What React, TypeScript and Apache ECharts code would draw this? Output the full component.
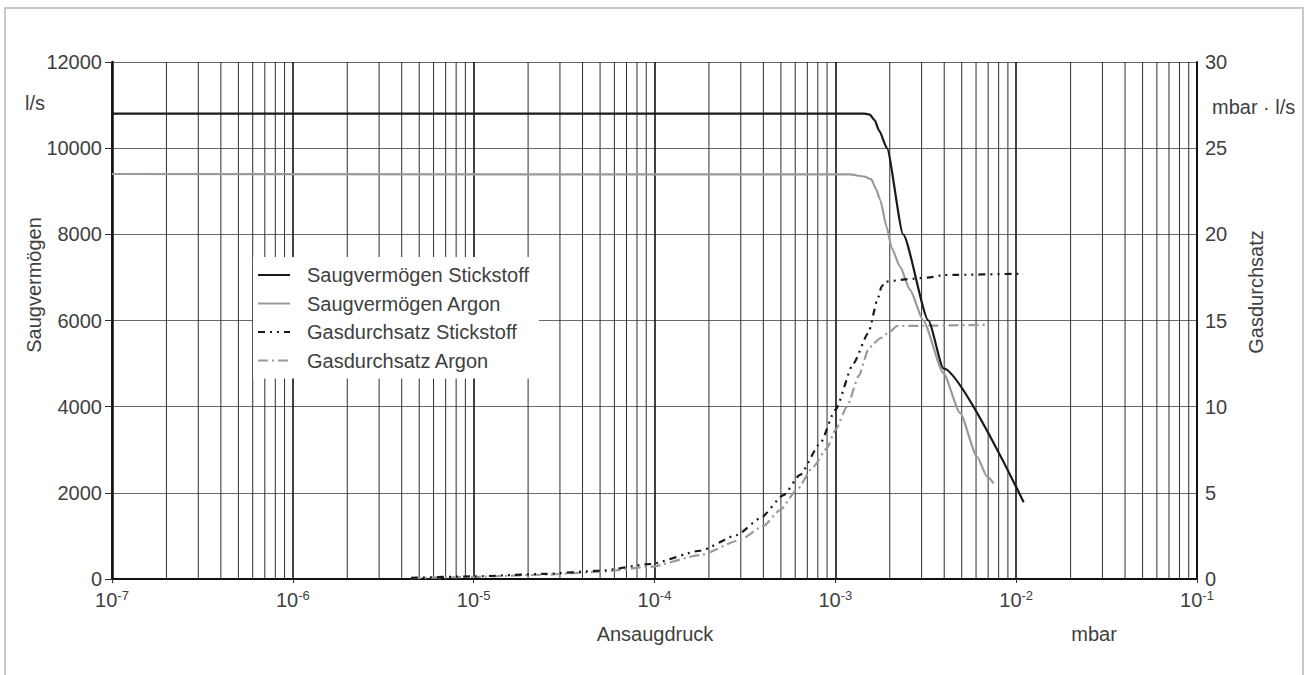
import React, { useEffect, useRef } from "react";
import * as echarts from "echarts";

const FONT = '"Liberation Sans", Arial, sans-serif';
const TXT = "#404040";

const seriesNames = [
  "Saugvermögen Stickstoff",
  "Saugvermögen Argon",
  "Gasdurchsatz Stickstoff",
  "Gasdurchsatz Argon",
];

// [pressure mbar, l/s]
const saugStickstoff: [number, number][] = [
  [1e-7, 10800], [1.45e-3, 10800], [1.55e-3, 10780], [1.65e-3, 10650],
  [1.75e-3, 10400], [1.93e-3, 10000], [2.37e-3, 8000], [3.27e-3, 6000],
  [3.96e-3, 4890], [1.1e-2, 1780],
];
const saugArgon: [number, number][] = [
  [1e-7, 9400], [1.2e-3, 9390], [1.45e-3, 9340], [1.58e-3, 9280],
  [1.68e-3, 9050], [1.77e-3, 8800], [1.92e-3, 8180], [2.05e-3, 7680],
  [2.28e-3, 7250], [2.59e-3, 6710], [3.06e-3, 6000], [3.96e-3, 4780],
  [4.9e-3, 3850], [6.07e-3, 2840], [6.9e-3, 2380], [7.5e-3, 2220],
];
// [pressure mbar, mbar·l/s]
const gasStickstoff: [number, number][] = [
  [4.5e-6, 0.07], [1e-5, 0.15], [2.5e-5, 0.3], [5e-5, 0.48], [9.5e-5, 0.87],
  [1.79e-4, 1.64], [2.85e-4, 2.55], [3.84e-4, 3.52], [5.17e-4, 4.87],
  [6.38e-4, 6.04], [8.24e-4, 7.87], [1e-3, 9.81], [1.26e-3, 12.52],
  [1.52e-3, 14.26], [1.72e-3, 16.3], [1.8e-3, 16.96], [1.89e-3, 17.25],
  [2.5e-3, 17.4], [3.34e-3, 17.5], [4e-3, 17.64], [1.1e-2, 17.72],
];
const gasArgon: [number, number][] = [
  [4.5e-6, 0.05], [1e-5, 0.12], [2.5e-5, 0.25], [5e-5, 0.42], [9.5e-5, 0.71],
  [1.79e-4, 1.39], [2.97e-4, 2.26], [4e-4, 3.08], [4.95e-4, 4.0],
  [6.12e-4, 5.17], [7.56e-4, 6.52], [9e-4, 7.6], [1e-3, 8.65],
  [1.16e-3, 10.0], [1.35e-3, 11.8], [1.52e-3, 13.29], [1.63e-3, 13.68],
  [1.77e-3, 13.97], [2.0e-3, 14.35], [2.19e-3, 14.68], [6.9e-3, 14.75],
];

const xMin = 1e-7;
const xMax = 1e-1;
const leftMax = 12000;
const leftInterval = 2000;
const rightMax = 30;
const rightInterval = 5;

const axisNames = {
  left: "Saugvermögen",
  leftUnit: "l/s",
  right: "Gasdurchsatz",
  rightUnit: "mbar · l/s",
  x: "Ansaugdruck",
  xUnit: "mbar",
};

// minor log grid positions (2..9 × each decade)
function minorGridSeries(): any[] {
  const out: any[] = [];
  for (let d = -7; d <= -2; d++) {
    for (let k = 2; k <= 9; k++) {
      const x = parseFloat((k * Math.pow(10, d)).toPrecision(3));
      out.push({
        name: `grid${d}_${k}`,
        type: "line",
        data: [[x, 0], [x, leftMax]],
        yAxisIndex: 0,
        symbol: "none",
        silent: true,
        lineStyle: { color: "#2e2e2e", width: 1 },
        z: 1,
      });
    }
  }
  return out;
}

export default function App() {
  const ref = useRef<HTMLDivElement>(null);
  useEffect(() => {
    if (!ref.current) return;
    const chart = echarts.init(ref.current, undefined, { renderer: "svg" });
    const BLACK = "#1a1a1a";
    const GRAY = "#9a9a9a";
    chart.setOption({
      animation: false,
      backgroundColor: "#fff",
      grid: { left: 112, right: 118, top: 62, bottom: 96 },
      legend: {
        data: seriesNames,
        orient: "vertical",
        left: 253,
        top: 257,
        padding: [8, 10, 8, 4],
        backgroundColor: "#fff",
        itemWidth: 32,
        itemHeight: 14,
        itemGap: 8.5,
        selectedMode: false,
        itemStyle: { opacity: 0 },
        textStyle: {
          fontSize: 20,
          fontFamily: FONT,
          color: TXT,
          lineHeight: 20,
          padding: [0, 0, 0, 12],
        },
      },
      xAxis: {
        type: "log",
        logBase: 10,
        min: xMin,
        max: xMax,
        splitNumber: 6,
        axisLine: { show: true, lineStyle: { color: "#111", width: 2 } },
        axisTick: { show: true, length: 4, lineStyle: { color: "#333" } },
        splitLine: { show: true, lineStyle: { color: "#111", width: 1.6 } },
        axisLabel: {
          margin: 10,
          formatter: (v: number) => `{b|10}{s|${Math.round(Math.log10(v))}}`,
          rich: {
            b: { fontSize: 20, fontFamily: FONT, color: TXT, lineHeight: 22 },
            s: { fontSize: 13, fontFamily: FONT, color: TXT, verticalAlign: "top", lineHeight: 13 },
          },
        },
      },
      yAxis: [
        {
          type: "value",
          min: 0,
          max: leftMax,
          interval: leftInterval,
          axisLine: { show: true, lineStyle: { color: "#111", width: 2.5 } },
          axisTick: { show: true, length: 7, lineStyle: { color: "#333" } },
          splitLine: { show: true, lineStyle: { color: "#6a6a6a", width: 1.2 } },
          axisLabel: { margin: 10, fontSize: 20, fontFamily: FONT, color: TXT, formatter: (v: number) => String(v) },
        },
        {
          type: "value",
          min: 0,
          max: rightMax,
          interval: rightInterval,
          position: "right",
          axisLine: { show: true, lineStyle: { color: "#111", width: 2 } },
          axisTick: { show: false },
          splitLine: { show: false },
          axisLabel: { margin: 8, fontSize: 20, fontFamily: FONT, color: TXT, formatter: (v: number) => String(v) },
        },
      ],
      graphic: [
        {
          type: "rect",
          shape: { x: 5, y: 8, width: 1298, height: 720 },
          style: { fill: "none", stroke: "#c8c8c8", lineWidth: 2 },
          silent: true,
          z: -10,
        },
        { type: "text", x: 25, y: 103, style: { text: axisNames.leftUnit, fontSize: 20, fontFamily: FONT, fill: TXT, align: "left", verticalAlign: "middle" } },
        { type: "text", x: 1212, y: 107, style: { text: axisNames.rightUnit, fontSize: 20, fontFamily: FONT, fill: TXT, align: "left", verticalAlign: "middle" } },
        { type: "text", x: 34, y: 285, rotation: Math.PI / 2, style: { text: axisNames.left, fontSize: 20, fontFamily: FONT, fill: TXT, align: "center", verticalAlign: "middle" } },
        { type: "text", x: 1256, y: 292, rotation: Math.PI / 2, style: { text: axisNames.right, fontSize: 20, fontFamily: FONT, fill: TXT, align: "center", verticalAlign: "middle" } },
        { type: "text", x: 655, y: 634, style: { text: axisNames.x, fontSize: 20, fontFamily: FONT, fill: TXT, align: "center", verticalAlign: "middle" } },
        { type: "text", x: 1094, y: 634, style: { text: axisNames.xUnit, fontSize: 20, fontFamily: FONT, fill: TXT, align: "center", verticalAlign: "middle" } },
      ],
      series: [
        ...minorGridSeries(),
        {
          name: seriesNames[0],
          type: "line",
          data: saugStickstoff,
          yAxisIndex: 0,
          symbol: "none",
          smooth: 0.2,
          smoothMonotone: "x",
          lineStyle: { color: BLACK, width: 2.2 },
          itemStyle: { color: BLACK },
          z: 5,
        },
        {
          name: seriesNames[1],
          type: "line",
          data: saugArgon,
          yAxisIndex: 0,
          symbol: "none",
          smooth: 0.2,
          smoothMonotone: "x",
          lineStyle: { color: GRAY, width: 2.2 },
          itemStyle: { color: GRAY },
          z: 4,
        },
        {
          name: seriesNames[2],
          type: "line",
          data: gasStickstoff,
          yAxisIndex: 1,
          symbol: "none",
          smooth: 0.2,
          smoothMonotone: "x",
          lineStyle: { color: BLACK, width: 2.2, type: [7, 5, 2, 5, 2, 5] },
          itemStyle: { color: BLACK },
          z: 5,
        },
        {
          name: seriesNames[3],
          type: "line",
          data: gasArgon,
          yAxisIndex: 1,
          symbol: "none",
          smooth: 0.2,
          smoothMonotone: "x",
          lineStyle: { color: GRAY, width: 2.2, type: [10, 4, 2, 4] },
          itemStyle: { color: GRAY },
          z: 4,
        },
      ],
    });
    return () => chart.dispose();
  }, []);
  return (
    <div
      ref={ref}
      style={{ position: "absolute", left: 0, top: 0, width: 1315, height: 675 }}
    />
  );
}
